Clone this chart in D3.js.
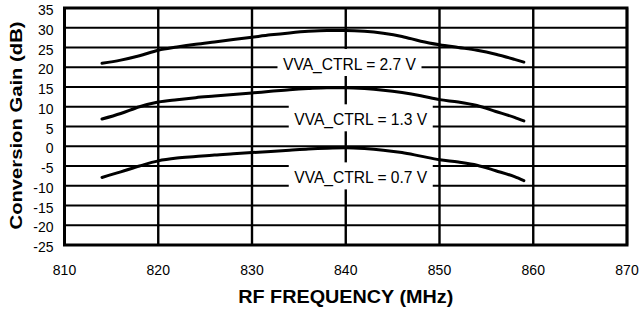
<!DOCTYPE html>
<html>
<head>
<meta charset="utf-8">
<script src="https://cdn.jsdelivr.net/npm/d3@7"></script>
<style>
  html, body { margin: 0; padding: 0; background: #fff; }
  svg { display: block; font-family: "Liberation Sans", Arial, sans-serif; }
</style>
</head>
<body>
<svg id="chart" width="641" height="312"></svg>
<script>
// Data
var freqs = [814, 816, 818, 820, 822, 824, 826, 828, 830, 832, 834, 836, 838, 840, 842, 844, 846, 848, 850, 852, 854, 856, 858, 859];
var gain27 = [21.0, 21.8, 22.9, 24.3, 25.1, 25.8, 26.4, 27.0, 27.6, 28.2, 28.7, 29.1, 29.3, 29.3, 29.1, 28.6, 27.8, 26.6, 25.7, 25.0, 24.3, 23.3, 22.0, 21.3];
var gain13 = [6.9, 8.3, 10.0, 11.2, 11.8, 12.3, 12.7, 13.1, 13.5, 13.9, 14.3, 14.6, 14.8, 14.8, 14.6, 14.2, 13.6, 12.8, 11.8, 11.2, 10.3, 8.8, 7.3, 6.4];
var gain07 = [-7.9, -6.5, -5.0, -3.7, -3.0, -2.6, -2.2, -1.9, -1.6, -1.3, -1.0, -0.7, -0.5, -0.4, -0.6, -1.0, -1.6, -2.5, -3.4, -4.0, -4.8, -6.2, -7.7, -8.7];
var xTicks = [810, 820, 830, 840, 850, 860, 870];
var yTicks = [35, 30, 25, 20, 15, 10, 5, 0, -5, -10, -15, -20, -25];
var seriesNames = ["VVA_CTRL = 2.7 V", "VVA_CTRL = 1.3 V", "VVA_CTRL = 0.7 V"];
// Label anchors (frequency = centre, gain = baseline) for the in-plot annotations
var labelFreq = [840.4, 841.6, 841.6];
var labelGain = [19.3, 5.3, -9.4];

var series = [gain27, gain13, gain07];

// Layout
var m = { l: 64.5, r: 14, t: 8, b: 67 };
var W = 641, H = 312;

var svg = d3.select("#chart");

var x = d3.scaleLinear().domain([810, 870]).range([m.l, W - m.r]);
var y = d3.scaleLinear().domain([-25, 35]).range([H - m.b, m.t]);

// Grid
var grid = svg.append("g").attr("class", "grid");

grid.selectAll("line.h")
  .data(yTicks)
  .enter().append("line")
  .attr("class", "h")
  .attr("x1", x(810)).attr("x2", x(870))
  .attr("y1", function(d) { return y(d); })
  .attr("y2", function(d) { return y(d); })
  .style("stroke", "#000")
  .style("stroke-width", 2.2)
  ;

grid.selectAll("line.v")
  .data(xTicks)
  .enter().append("line")
  .attr("class", "v")
  .attr("y1", y(-25)).attr("y2", y(35))
  .attr("x1", function(d) { return x(d); })
  .attr("x2", function(d) { return x(d); })
  .style("stroke", "#000")
  .style("stroke-width", 2.4)
  ;

// Frame
svg.append("rect")
  .attr("x", x(810)).attr("y", y(35))
  .attr("width", x(870) - x(810))
  .attr("height", y(-25) - y(35))
  .style("fill", "none")
  .style("stroke", "#000")
  .style("stroke-width", 3)
  ;

// Curves
var line = d3.line()
  .x(function(d, i) { return x(freqs[i]); })
  .y(function(d) { return y(d); })
  .curve(d3.curveMonotoneX)
  ;

svg.selectAll("path.curve")
  .data(series)
  .enter().append("path")
  .attr("class", "curve")
  .attr("d", line)
  .style("fill", "none")
  .style("stroke", "#000")
  .style("stroke-width", 3)
  .style("stroke-linecap", "round")
  ;

// Annotations with white boxes
var labels = svg.append("g").attr("class", "labels");
seriesNames.forEach(function(name, i) {
  var g = labels.append("g");
  var cx = x(labelFreq[i]), by = y(labelGain[i]);
  g.append("rect")
    .attr("x", cx - 72)
    .attr("y", by - 21)
    .attr("width", 144)
    .attr("height", 27)
    .style("fill", "#fff")
    ;
  g.append("text")
    .attr("x", cx)
    .attr("y", by)
    .style("text-anchor", "middle")
    .style("font-size", "16px")
    .attr("textLength", 133)
    .attr("lengthAdjust", "spacingAndGlyphs")
    .text(name)
    ;
});

// Tick labels
svg.append("g").selectAll("text")
  .data(xTicks)
  .enter().append("text")
  .attr("x", function(d) { return x(d); })
  .attr("y", y(-25) + 30)
  .style("text-anchor", "middle")
  .style("font-size", "14px")
  .text(function(d) { return d; })
  ;

svg.append("g").selectAll("text")
  .data(yTicks)
  .enter().append("text")
  .attr("x", m.l - 11)
  .attr("y", function(d) { return y(d) + 2; })
  .attr("dy", "0.36em")
  .style("text-anchor", "end")
  .style("font-size", "14px")
  .text(function(d) { return d; })
  ;

// Axis titles
svg.append("text")
  .attr("x", (x(810) + x(870)) / 2)
  .attr("y", 303)
  .style("text-anchor", "middle")
  .style("font-size", "18px")
  .style("font-weight", "bold")
  .attr("textLength", 215)
  .attr("lengthAdjust", "spacingAndGlyphs")
  .text("RF FREQUENCY (MHz)")
  ;

svg.append("text")
  .attr("transform", "translate(22," + ((y(-25) + y(35)) / 2 - 1) + ") rotate(-90)")
  .style("text-anchor", "middle")
  .style("font-size", "16px")
  .style("font-weight", "bold")
  .attr("textLength", 208)
  .attr("lengthAdjust", "spacingAndGlyphs")
  .text("Conversion Gain (dB)")
  ;
</script>
</body>
</html>
